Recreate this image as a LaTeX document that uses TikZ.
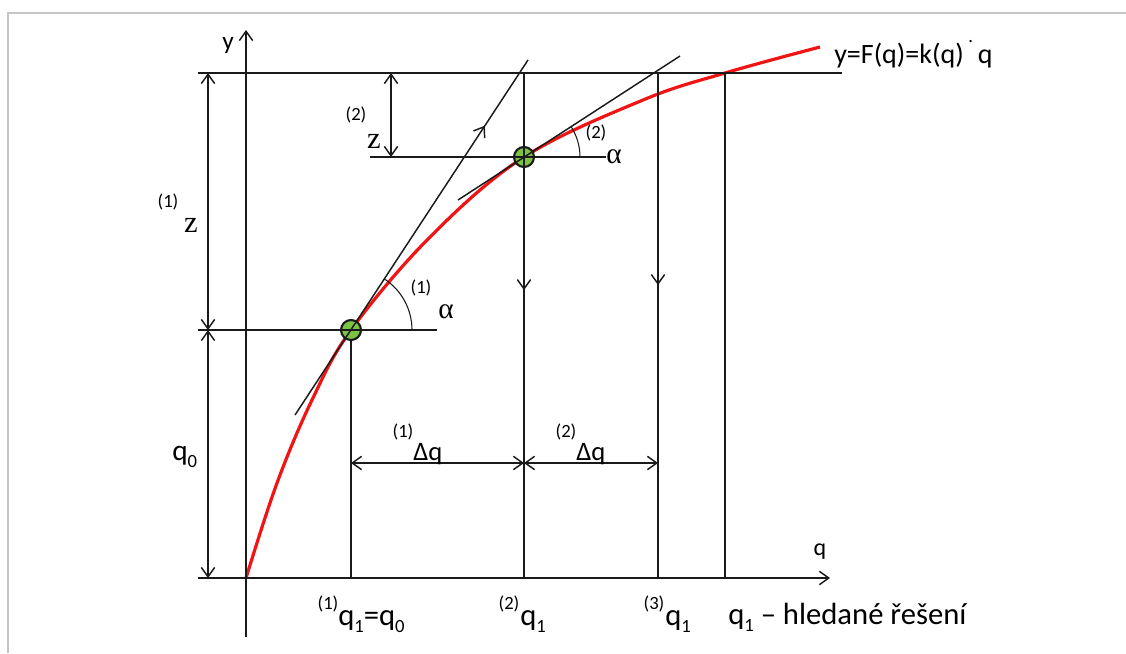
\documentclass[tikz,border=0pt]{standalone}
\usepackage{fontspec}
\setmainfont{Carlito}
\newfontfamily\serifgr{Liberation Serif}
\usetikzlibrary{arrows.meta,decorations.markings}
\definecolor{cFrame}{HTML}{C6C6C6}
\definecolor{cCurve}{HTML}{F01414}
\definecolor{cPoint}{HTML}{7CC243}
\definecolor{cLine}{HTML}{1A1A1A}
\newcommand{\lowidx}[1]{\raisebox{-0.5ex}{\fontsize{14}{14}\selectfont #1}}
\tikzset{
  >={Straight Barb[length=7pt,width=10pt]},
  ln/.style={draw=cLine, line width=1.1pt},
  dim/.style={ln, <->},
  fcurve/.style={draw=cCurve, line width=2.4pt},
  pt/.style={circle, draw=cLine, fill=cPoint, line width=1.6pt, minimum size=15pt, inner sep=0pt},
  lbl/.style={font=\fontsize{23}{25}\selectfont, inner sep=0pt, anchor=base west},
  sym/.style={font=\serifgr\fontsize{23}{25}\selectfont, inner sep=0pt, anchor=base},
  idx/.style={font=\fontsize{14}{15}\selectfont, inner sep=0pt},
  midarrow/.style={postaction={decorate},
                   decoration={markings, mark=at position #1 with {\arrow{>}}}},
}
\begin{document}
\begin{tikzpicture}[x=0.75pt, y=-0.75pt]
  \useasboundingbox (0,0) rectangle (1126,653);
  \draw[cFrame, line width=2.2pt] (8,653) -- (8,13) -- (1126,13);

  \coordinate (O)    at (246,578);
  \coordinate (ytop) at (246,30);
  \coordinate (ybot) at (246,637);
  \coordinate (xl)   at (198,578);
  \coordinate (xr)   at (830,578);
  \coordinate (tl)   at (198,73);
  \coordinate (tr)   at (842,73);

  \draw[fcurve] plot[smooth, tension=0.6] coordinates {(246,578) (277,483) (312,400) (351,330)
    (430,237) (524,157) (643,100) (725,73) (820,47)};
  \node[pt] (P1) at (351,330) {};
  \node[pt] (P2) at (524,157) {};

  \draw[ln,->] (ybot) -- (ytop);
  \draw[ln,->] (xl) -- (xr);
  \draw[ln] (tl) -- (tr);
  \draw[ln] (198,330) -- (437,330);
  \draw[ln] (370,157) -- (606,157);
  \draw[ln] (P1) -- (P1 |- O);
  \draw[ln, midarrow=0.43] (P2 |- tl) -- (P2 |- O);
  \draw[ln, midarrow=0.42] (658,73) -- (658,578);
  \draw[ln] (725,73) -- (725,578);

  \draw[dim] (208,73) -- (208,330);
  \draw[dim] (208,330) -- (208,578);
  \draw[dim] (391,73) -- (391,157);
  \draw[dim] (351,463) -- (524,463);
  \draw[dim] (524,463) -- (658,463);

  \draw[ln, midarrow=0.815] (295,415) -- (528,60);
  \draw[ln] (458,200) -- (680,56);
  \draw[ln, line width=0.8pt] (412,330) arc[start angle=0, end angle=-57, radius=61];
  \draw[ln, line width=0.8pt] (580,157) arc[start angle=0, end angle=-33, radius=56];

  \node[lbl, anchor=base, font=\fontsize{19}{21}\selectfont] (ylab) at (228,49) {y};
  \node[lbl, anchor=base, font=\fontsize{18}{20}\selectfont] (qlab) at (820,555) {q};
  \node[lbl, font=\fontsize{21}{23}\selectfont] (eq) at (834,63)
       {y=F(q)=k(q)\,\raisebox{1.5ex}{\fontsize{14}{14}\selectfont.}\,q};
  \node[lbl, font=\fontsize{22}{24}\selectfont] (q0) at (172,460) {q\lowidx{0}};

  \node[idx] (iz1) at (168,202) {(1)};
  \node[sym] (z1) at (191,232) {z};
  \node[idx] (iz2) at (356,115) {(2)};
  \node[sym] (z2) at (374,148) {z};
  \node[idx] (ia1) at (421,288) {(1)};
  \node[sym, font=\serifgr\fontsize{22}{24}\selectfont] (a1) at (446,318) {α};
  \node[idx] (ia2) at (596,133) {(2)};
  \node[sym, font=\serifgr\fontsize{22}{24}\selectfont] (a2) at (614,163) {α};

  \node[idx] (id1) at (403,432) {(1)};
  \node[lbl, font=\fontsize{20}{22}\selectfont] (dq1) at (413,460) {Δq};
  \node[idx] (id2) at (566,432) {(2)};
  \node[lbl, font=\fontsize{20}{22}\selectfont] (dq2) at (576,460) {Δq};

  \node[idx] (iq1) at (328,604) {(1)};
  \node[lbl] (q1a) at (338,625) {q\lowidx{1}=q\lowidx{0}};
  \node[idx] (iq2) at (509,604) {(2)};
  \node[lbl] (q1b) at (520,625) {q\lowidx{1}};
  \node[idx] (iq3) at (654,604) {(3)};
  \node[lbl] (q1c) at (665,625) {q\lowidx{1}};
  \node[lbl] (sol) at (728,624) {q\lowidx{1} – hledané řešení};
\end{tikzpicture}
\end{document}
